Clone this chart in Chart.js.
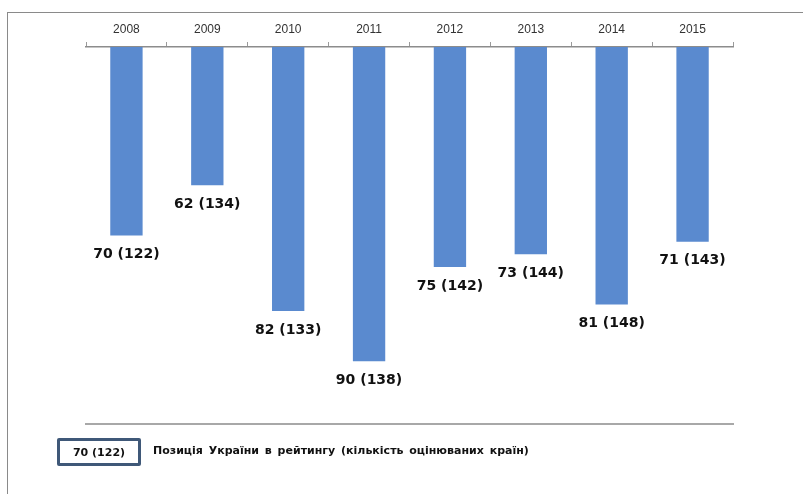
<!DOCTYPE html>
<html>
<head>
<meta charset="utf-8">
<script src="https://cdn.jsdelivr.net/npm/chart.js@4.4.0/dist/chart.umd.min.js"></script>
<style>
  html, body { margin: 0; padding: 0; background: #fff; }
  #wrap { position: relative; width: 803px; height: 494px; overflow: hidden; }
  #frame { position: absolute; left: 7px; top: 12px; width: 810px; height: 500px;
           border-left: 1.5px solid #8a8a8a; border-top: 1.5px solid #8a8a8a; }
  canvas { position: absolute; left: 0; top: 0; }
  #legendBox { position: absolute; left: 57px; top: 438px; width: 78px; height: 22px;
               border: 3px solid #3f5878; border-radius: 2px;
               font: bold 11px "DejaVu Sans", sans-serif; color: #111;
               display: flex; align-items: center; justify-content: center; }
  #legendText { position: absolute; left: 153px; top: 444px;
                font: bold 11px "DejaVu Sans", sans-serif; color: #111;
                white-space: pre; word-spacing: 2px; }
</style>
</head>
<body>
<div id="wrap">
  <div id="frame"></div>
  <canvas id="chart1" width="803" height="494"></canvas>
  <div id="legendBox">70 (122)</div>
  <div id="legendText">Позиція України в рейтингу (кількість оцінюваних країн)</div>
</div>
<script>
const years = ['2008', '2009', '2010', '2011', '2012', '2013', '2014', '2015'];
const ranks = [70, 62, 82, 90, 75, 73, 81, 71];
const countries = [122, 134, 133, 138, 142, 144, 148, 143];

const ctx1 = document.getElementById('chart1').getContext('2d');

// label under the end of each bar: "rank (countries)"
const barLabels = {
    id: 'barLabels',
    afterDatasetsDraw(chart) {
        const c = chart.ctx;
        const meta = chart.getDatasetMeta(0);
        c.save();
        c.font = 'bold 14px "DejaVu Sans", sans-serif';
        c.fillStyle = '#111';
        c.textAlign = 'center';
        c.textBaseline = 'middle';
        meta.data.forEach((bar, i) => {
            c.fillText(ranks[i] + ' (' + countries[i] + ')', bar.x, bar.y + 19);
        });
        c.restore();
    }
};

new Chart(ctx1, {
    type: 'bar',
    data: {
        labels: years,
        datasets: [{
            label: 'Позиція України в рейтингу',
            data: ranks,
            backgroundColor: '#5a8acf',
            borderWidth: 0,
            categoryPercentage: 1,
            barPercentage: 0.4
        }]
    },
    options: {
        responsive: false,
        animation: false,
        layout: { padding: { left: 86, right: 70, top: 0, bottom: 70 } },
        plugins: {
            legend: { display: false },
            tooltip: { enabled: false }
        },
        scales: {
            x: {
                position: 'top',
                grid: {
                    display: true,
                    drawOnChartArea: false,
                    drawTicks: true,
                    tickLength: 5,
                    color: '#9a9a9a',
                    offset: true
                },
                border: { display: true, color: '#8c8c8c', width: 1.5 },
                ticks: {
                    color: '#333',
                    font: { family: '"Liberation Sans", sans-serif', size: 12 },
                    padding: 5
                },
                afterFit(scale) { scale.height = 47; }
            },
            x2: {
                position: 'bottom',
                grid: { display: false },
                border: { display: true, color: '#a8a8a8', width: 2 },
                ticks: { display: false },
                afterFit(scale) { scale.height = 0; }
            },
            y: {
                display: false,
                reverse: true,
                min: 40,
                max: 100
            }
        }
    },
    plugins: [barLabels]
});
</script>
</body>
</html>
